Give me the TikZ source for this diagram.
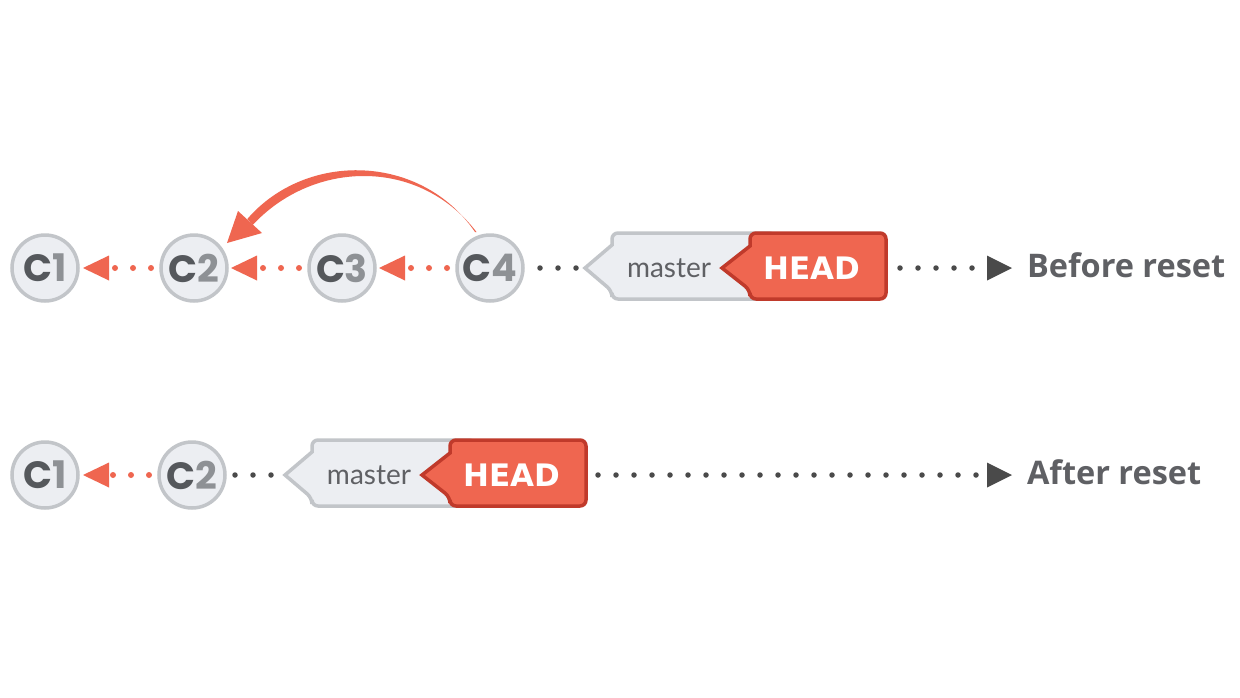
\documentclass[tikz,border=0pt]{standalone}
\usepackage{fontspec}
\usetikzlibrary{arrows.meta}
\newfontfamily\cfont{Poppins}
\newfontfamily\headfont{DejaVu Sans}
\newfontfamily\mfont{Lato}
\newfontfamily\lblfont{Open Sans}
\definecolor{cred}{HTML}{EF6650}
\definecolor{cdred}{HTML}{C03A2B}
\definecolor{cfill}{HTML}{ECEEF2}
\definecolor{cbord}{HTML}{C2C5C9}
\definecolor{cdark}{HTML}{55585C}
\definecolor{cdig}{HTML}{8E9195}
\definecolor{cdot}{HTML}{4A4A4A}
\definecolor{ctext}{HTML}{5F6064}
\newcommand\commitlbl[1]{{\color{cdark}C}{\color{cdig}#1}}
\begin{document}
\begin{tikzpicture}[x=1pt,y=-1pt,
  commit/.style={circle, draw=cbord, fill=cfill, line width=3.5pt, minimum size=66pt,
    inner sep=0pt, outer sep=0pt, font=\cfont\bfseries\fontsize{38}{38}\selectfont},
  reddots/.style={draw=cred, line width=6pt, line cap=round, dash pattern=on 0pt off 18pt,
    -{Triangle[length=26pt,width=25pt,line width=0pt,fill=cred]}},
  darkdots/.style={draw=cdot, line width=5.5pt, line cap=round, dash pattern=on 0pt off 18pt},
  endtip/.style={-{Triangle[length=25pt,width=25pt,line width=0pt,fill=cdot]}},
  tagm/.style={draw=cbord, fill=cfill, line width=3.5pt, line join=miter},
  tagh/.style={draw=cdred, fill=cred, line width=3.5pt, line join=miter},
  mtext/.style={inner sep=0pt, outer sep=0pt, minimum width=168pt, minimum height=66pt,
    text=ctext, font=\mfont\fontsize{28}{28}\selectfont},
  htext/.style={inner sep=0pt, outer sep=0pt, minimum width=164pt, minimum height=66pt,
    text=white, font=\headfont\bfseries\fontsize{31}{31}\selectfont},
  lbl/.style={inner sep=0pt, outer sep=0pt, anchor=base west, text=ctext,
    font=\lblfont\bfseries\fontsize{32.5}{32.5}\selectfont}
]
\useasboundingbox (0,0) rectangle (1240,697);
\fill[white] (0,0) rectangle (1240,697);

% ---------- Before reset ----------
% tags
\draw[tagm] (612,291) -- (585,268) -- (612,245) [rounded corners=6pt] -- (612,233) -- (775,233) -- (775,299) -- (612,299) -- cycle;
\draw[tagh] (750,290) -- (722,268) -- (750,246) [rounded corners=6pt] -- (750,233) -- (886,233) -- (886,299) -- (750,299) -- cycle;
\node[mtext] (m1) at (669,268) {master};
\node[htext] (h1) at (804,268) {\hspace*{16pt}HEAD};

\node[commit] (a1) at (45,268) {\commitlbl{1}};
\node[commit] (a2) at (194,268) {\commitlbl{2}};
\node[commit] (a3) at (342,268) {\commitlbl{3}};
\node[commit] (a4) at (490,268) {\commitlbl{4}};
\coordinate (e1) at (1012,268);
\node[lbl] (l1) at (1027,277) {Before reset};

\draw[reddots, shorten <=10pt, shorten >=5pt] (a2) -- (a1);
\draw[reddots, shorten <=10pt, shorten >=4pt] (a3) -- (a2);
\draw[reddots, shorten <=10pt, shorten >=4pt] (a4) -- (a3);
\draw[darkdots, shorten <=17pt] (a4) -- (m1.west);
\draw[darkdots, endtip, shorten <=14pt] (h1.east) -- (e1);

% reset arrow C4 -> C2
\fill[cred] (475,232) .. controls (421,153) and (306,151) .. (247.3,219)
  -- (252.7,225) .. controls (313,160) and (419,157) .. (476.5,232) -- cycle;
\fill[cred] (227,243) -- (238,211) -- (262,233) -- cycle;

% ---------- After reset ----------
\draw[tagm] (312,498) -- (285,475) -- (312,452) [rounded corners=6pt] -- (312,440) -- (475,440) -- (475,506) -- (312,506) -- cycle;
\draw[tagh] (450,497) -- (422,475) -- (450,453) [rounded corners=6pt] -- (450,440) -- (586,440) -- (586,506) -- (450,506) -- cycle;
\node[mtext] (m2) at (369,475) {master};
\node[htext] (h2) at (504,475) {\hspace*{16pt}HEAD};

\node[commit] (b1) at (45,475) {\commitlbl{1}};
\node[commit] (b2) at (192,475) {\commitlbl{2}};
\coordinate (e2) at (1012,475);
\node[lbl] (l2) at (1027,484) {After reset};

\draw[reddots, shorten <=10pt, shorten >=5pt] (b2) -- (b1);
\draw[darkdots, shorten <=10pt] (b2) -- (m2.west);
\draw[darkdots, endtip, shorten <=12pt] (h2.east) -- (e2);
\end{tikzpicture}
\end{document}
